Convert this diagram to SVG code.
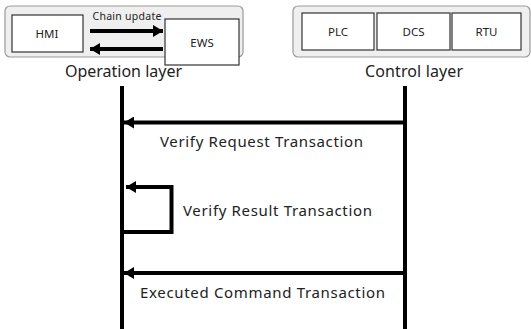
<svg xmlns="http://www.w3.org/2000/svg" width="531" height="329" viewBox="0 0 531 329">
<style>
.grp{fill:#efefef;stroke:#9a9a9a;stroke-width:1.2}
.box{fill:#ffffff;stroke:#333333;stroke-width:1.2}
.t{font-family:"Noto Sans","Open Sans",sans-serif;fill:#222;text-anchor:middle}
.small{font-size:11.5px}
.big{font-size:15px}
.layer{font-size:16px}
.line{stroke:#000;stroke-width:4;fill:none}
</style>
<defs>
<marker id="ah" markerUnits="userSpaceOnUse" markerWidth="12" markerHeight="12" refX="10" refY="6" orient="auto">
<path d="M0,0 L10,6 L0,12 Z" fill="#000"/>
</marker>
</defs>
<rect width="531" height="329" fill="#fff"/>
<g id="operation-layer">
<rect class="grp" x="5" y="6" width="238" height="51" rx="5"/>
<text class="t layer" x="123.5" y="76.5" textLength="117" lengthAdjust="spacing">Operation layer</text>
</g>
<g id="HMI">
<rect class="box" x="12" y="15" width="71" height="37"/>
<text class="t small" x="47" y="37.5">HMI</text>
</g>
<g id="EWS">
<rect class="box" x="165" y="19" width="74" height="46"/>
<text class="t small" x="202" y="46.5">EWS</text>
</g>
<g id="control-layer">
<rect class="grp" x="293" y="6" width="237" height="51" rx="5"/>
<text class="t layer" x="414" y="76.5" textLength="98" lengthAdjust="spacing">Control layer</text>
</g>
<g id="PLC">
<rect class="box" x="302" y="13" width="72" height="37"/>
<text class="t small" x="338" y="36">PLC</text>
</g>
<g id="DCS">
<rect class="box" x="377" y="13" width="73" height="37"/>
<text class="t small" x="413.5" y="36">DCS</text>
</g>
<g id="RTU">
<rect class="box" x="452" y="13" width="69" height="37"/>
<text class="t small" x="486.5" y="36">RTU</text>
</g>
<g id="connectors">
<line class="line" x1="122" y1="86" x2="122" y2="329"/>
<line class="line" x1="405" y1="86" x2="405" y2="329"/>
<line class="line" x1="90" y1="31" x2="163" y2="31" marker-end="url(#ah)"/>
<line class="line" x1="163" y1="49" x2="90" y2="49" marker-end="url(#ah)"/>
<line class="line" x1="405" y1="122.5" x2="124" y2="122.5" marker-end="url(#ah)"/>
<polyline class="line" points="124,232 171.5,232 171.5,187 126,187" marker-end="url(#ah)"/>
<line class="line" x1="405" y1="273" x2="124" y2="273" marker-end="url(#ah)"/>
</g>
<g id="labels">
<text class="t" style="font-size:10.5px" x="127" y="20" textLength="69" lengthAdjust="spacing">Chain update</text>
<text class="t big" x="261.5" y="147" textLength="203" lengthAdjust="spacing">Verify Request Transaction</text>
<text class="t big" x="277.5" y="216" textLength="189" lengthAdjust="spacing">Verify Result Transaction</text>
<text class="t big" x="262.5" y="298" textLength="245" lengthAdjust="spacing">Executed Command Transaction</text>
</g>
</svg>
